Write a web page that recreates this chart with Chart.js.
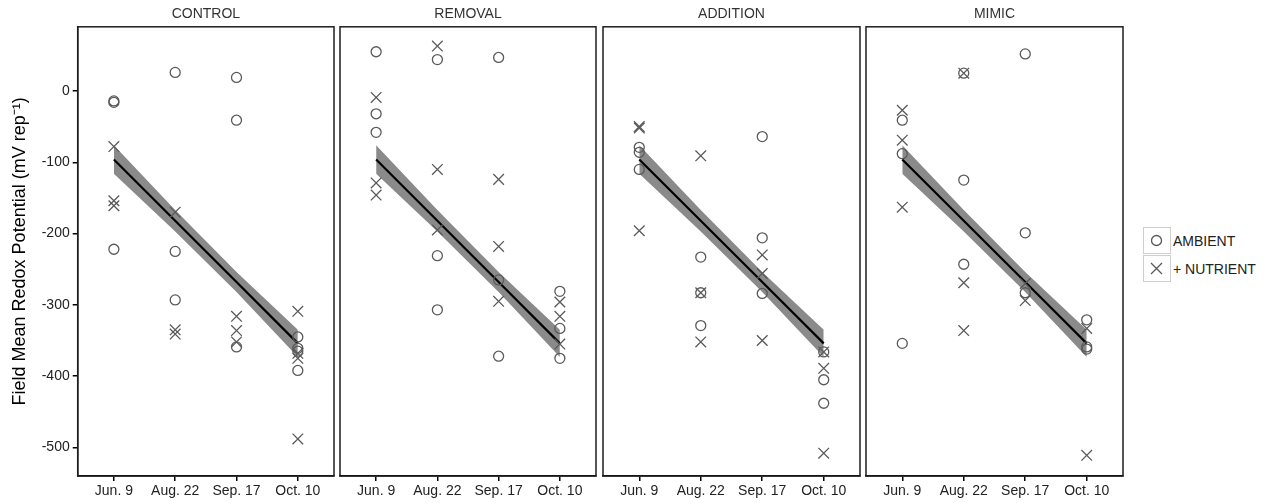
<!DOCTYPE html>
<html>
<head>
<meta charset="utf-8">
<script src="https://cdn.jsdelivr.net/npm/chart.js@4.4.1/dist/chart.umd.min.js"></script>
<style>
  html, body { margin: 0; padding: 0; background: #fff; }
  body { width: 1272px; height: 503px; overflow: hidden; position: relative; font-family: 'Liberation Sans', Arial, sans-serif; }
  .panel { position: absolute; top: 0; height: 503px; }
  .lgbox { position: absolute; left: 1143px; width: 28px; height: 27px; box-sizing: border-box; border: 1.5px solid #cfcfcf; }
  .lgtext { position: absolute; left: 1173px; font-size: 14px; color: #222; line-height: 16px; white-space: nowrap; }
</style>
</head>
<body>
<div class="panel" id="p0" style="left:0px;width:340px"><canvas id="c0" width="340" height="503"></canvas></div>
<div class="panel" id="p1" style="left:338px;width:260px"><canvas id="c1" width="260" height="503"></canvas></div>
<div class="panel" id="p2" style="left:601px;width:261px"><canvas id="c2" width="261" height="503"></canvas></div>
<div class="panel" id="p3" style="left:864px;width:261px"><canvas id="c3" width="261" height="503"></canvas></div>

<div class="lgbox" style="top:227px"><svg width="25" height="24" style="position:absolute;left:0;top:0"><circle cx="12.5" cy="12.5" r="5" fill="none" stroke="#5a5a5a" stroke-width="1.3"/></svg></div>
<div class="lgbox" style="top:254.5px"><svg width="25" height="24" style="position:absolute;left:0;top:0"><path d="M7 7 L18 18 M18 7 L7 18" stroke="#5a5a5a" stroke-width="1.3"/></svg></div>
<div class="lgtext" style="top:233px">AMBIENT</div>
<div class="lgtext" style="top:261px">+ NUTRIENT</div>

<script>
// ---- data ----
const dates = ['Jun. 9', 'Aug. 22', 'Sep. 17', 'Oct. 10'];
const panelTitles = ['CONTROL', 'REMOVAL', 'ADDITION', 'MIMIC'];
const yTicks = [0, -100, -200, -300, -400, -500];
const seriesNames = ['AMBIENT', '+ NUTRIENT'];

// values per date (Jun. 9, Aug. 22, Sep. 17, Oct. 10)
const controlAmbient   = [[-14, -16, -222], [26, -225, -293], [19, -41, -359], [-345, -361, -365, -392]];
const controlNutrient  = [[-78, -154, -161], [-170, -335, -341], [-316, -336, -352], [-309, -368, -375, -488]];
const removalAmbient   = [[55, -32, -58], [44, -231, -307], [47, -265, -372], [-281, -333, -375]];
const removalNutrient  = [[-9, -129, -146], [63, -110, -195], [-124, -218, -295], [-296, -316, -355]];
const additionAmbient  = [[-79, -86, -110], [-233, -283, -329], [-64, -206, -284], [-366, -405, -438]];
const additionNutrient = [[-50, -52, -196], [-91, -283, -352], [-230, -256, -350], [-366, -389, -508]];
const mimicAmbient     = [[-41, -88, -354], [25, -125, -243], [52, -199, -283], [-321, -359, -362]];
const mimicNutrient    = [[-27, -69, -163], [25, -269, -336], [-270, -294], [-333, -511]];

// fitted regression line and its confidence band (same in every panel)
const fitLine  = [-96, -182, -268, -354];
const fitUpper = [-76, -167, -254, -335];
const fitLower = [-116, -197, -282, -373];

// ---- build ----
const ambientByPanel  = [controlAmbient, removalAmbient, additionAmbient, mimicAmbient];
const nutrientByPanel = [controlNutrient, removalNutrient, additionNutrient, mimicNutrient];

function toPoints(groups) {
  const out = [];
  groups.forEach((vals, i) => vals.forEach(v => out.push({ x: i + 1, y: v })));
  return out;
}
function toLine(vals) { return vals.map((v, i) => ({ x: i + 1, y: v })); }

const framePlugin = {
  id: 'frame',
  afterDraw(chart) {
    const { ctx, chartArea: a } = chart;
    ctx.save();
    ctx.strokeStyle = '#1e1e1e';
    ctx.lineWidth = 1.5;
    ctx.strokeRect(a.left, a.top, a.right - a.left, a.bottom - a.top);
    ctx.restore();
  }
};

const FONT = "'Liberation Sans', Arial, sans-serif";
const pads = [{ l: 0, r: 6 }, { l: 2, r: 2 }, { l: 2, r: 2 }, { l: 2, r: 2 }];
const markColor = '#5a5a5a';

panelTitles.forEach((title, p) => {
  const first = p === 0;
  new Chart(document.getElementById('c' + p), {
    type: 'scatter',
    data: {
      datasets: [
        { type: 'line', label: 'upper', data: toLine(fitUpper), borderColor: 'rgba(0,0,0,0)', borderWidth: 0,
          pointRadius: 0, fill: '+1', backgroundColor: '#8a8a8a', order: 3 },
        { type: 'line', label: 'lower', data: toLine(fitLower), borderColor: 'rgba(0,0,0,0)', borderWidth: 0,
          pointRadius: 0, fill: false, order: 3 },
        { type: 'line', label: 'fit', data: toLine(fitLine), borderColor: '#000', borderWidth: 2.2,
          pointRadius: 0, fill: false, order: 2 },
        { label: seriesNames[0], data: toPoints(ambientByPanel[p]), pointStyle: 'circle', pointRadius: 5,
          borderColor: markColor, backgroundColor: 'rgba(0,0,0,0)', borderWidth: 1.3, order: 1 },
        { label: seriesNames[1], data: toPoints(nutrientByPanel[p]), pointStyle: 'crossRot', pointRadius: 7.5,
          borderColor: markColor, backgroundColor: 'rgba(0,0,0,0)', borderWidth: 1.3, order: 0 }
      ]
    },
    options: {
      responsive: false,
      animation: false,
      devicePixelRatio: 1,
      layout: { autoPadding: false, padding: { left: pads[p].l, right: pads[p].r, top: 0, bottom: 0 } },
      plugins: {
        legend: { display: false },
        tooltip: { enabled: false },
        title: { display: true, text: title, fullSize: false, color: '#333',
                 font: { family: FONT, size: 14, weight: 'normal' }, padding: { top: 6, bottom: 4 } }
      },
      scales: {
        x: {
          type: 'linear', min: 0.41, max: 4.59,
          afterBuildTicks: s => { s.ticks = dates.map((d, i) => ({ value: i + 1 })); },
          afterFit: s => { s.height = 27; s.paddingLeft = 0; s.paddingRight = 0; },
          ticks: { callback: v => dates[v - 1], color: '#222', font: { family: FONT, size: 14 },
                   padding: 2, maxRotation: 0, autoSkip: false },
          grid: { drawOnChartArea: false, drawTicks: true, tickLength: 5, color: '#000', lineWidth: 1.5 },
          border: { display: true, color: '#000', width: 1.5 }
        },
        y: {
          type: 'linear', min: -540, max: 90, display: first,
          afterBuildTicks: s => { s.ticks = yTicks.map(v => ({ value: v })); },
          afterFit: s => { s.width = first ? 77.7 : 0; s.paddingTop = 0; s.paddingBottom = 0; },
          ticks: { callback: v => String(v), color: '#222', font: { family: FONT, size: 14 }, padding: 3 },
          grid: { drawOnChartArea: false, drawTicks: true, tickLength: 5, color: '#000', lineWidth: 1.5 },
          border: { display: true, color: '#000', width: 1.5 },
          title: { display: first, text: 'Field Mean Redox Potential (mV rep\u207B\u00B9)', color: '#000',
                   font: { family: FONT, size: 18 }, padding: { top: 9, bottom: 0 } }
        }
      }
    },
    plugins: [framePlugin]
  });
});
</script>
</body>
</html>
